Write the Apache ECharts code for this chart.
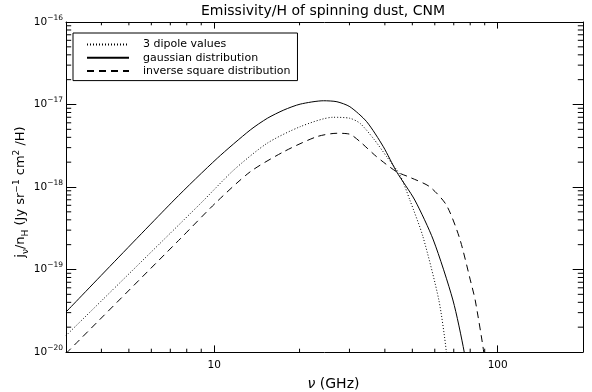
<!DOCTYPE html>
<html>
<head>
<meta charset="utf-8">
<script src="https://cdn.jsdelivr.net/npm/echarts@6/dist/echarts.min.js"></script>
<style>
  html, body { margin: 0; padding: 0; background: #fff; }
  #chart-container { width: 592px; height: 392px; }
</style>
</head>
<body>
<div id="chart-container"></div>
<script>
// frequency (GHz) and emissivity per H (Jy sr^-1 cm^2 /H)
var dipoleNu = [3.0, 8.96, 11.73, 15.37, 20.1, 26.3, 30.1, 32.7, 36.4, 40.6, 45.2, 49.0, 54.5, 62.0, 65.9, 67.0];
var dipoleJ  = [1.58e-20, 6.34e-19, 1.61e-18, 3.39e-18, 5.38e-18, 7.00e-18, 6.81e-18, 5.91e-18, 3.89e-18, 2.33e-18, 1.40e-18, 6.95e-19, 2.50e-19, 4.27e-20, 1.01e-20, 4e-21];

var gaussNu = [3.0, 7.22, 10.25, 13.4, 15.4, 17.6, 20.1, 24.3, 27.1, 30.1, 34.5, 39.5, 44.0, 51.0, 59.3, 69.5, 76.2, 78.0];
var gaussJ  = [3.05e-20, 6.95e-19, 2.23e-18, 4.91e-18, 6.81e-18, 8.57e-18, 1.01e-17, 1.11e-17, 1.08e-17, 9.40e-18, 6.19e-18, 3.08e-18, 1.53e-18, 6.95e-19, 2.28e-19, 4.27e-20, 1.0e-20, 5e-21];

var invsqNu = [3.0, 7.62, 10.2, 13.4, 17.6, 23.0, 27.1, 30.1, 32.7, 37.4, 44.0, 49.0, 57.5, 65.9, 73.4, 80.6, 83.3, 89.3, 91.0];
var invsqJ  = [9.6e-21, 2.39e-19, 6.6e-19, 1.53e-18, 2.68e-18, 4.07e-18, 4.48e-18, 4.36e-18, 3.54e-18, 2.33e-18, 1.53e-18, 1.31e-18, 1.01e-18, 6.05e-19, 2.39e-19, 6.81e-20, 4.27e-20, 1.0e-20, 5e-21];

var seriesNames = ['3 dipole values', 'gaussian distribution', 'inverse square distribution'];

// axis ranges and minor tick values
var xMin = 3, xMax = 200;
var yMin = 1e-20, yMax = 1e-16;
var xMinorTicks = [4, 5, 6, 7, 8, 9, 20, 30, 40, 50, 60, 70, 80, 90];
var yMinorTicks = [];
[-20, -19, -18, -17].forEach(function (e) {
  for (var m = 2; m <= 9; m++) yMinorTicks.push(m * Math.pow(10, e));
});

function pairs(xs, ys) {
  return xs.map(function (x, i) { return [x, ys[i]]; });
}

var FONT = 'DejaVu Sans';

var dom = document.getElementById('chart-container');
var myChart = echarts.init(dom, null, { renderer: 'canvas' });

function isPow10(v) {
  var l = Math.log10(v);
  return Math.abs(l - Math.round(l)) < 1e-6;
}

var lineBase = {
  type: 'line',
  symbol: 'none',
  smooth: 0.25,
  clip: true,
  xAxisIndex: 0,
  yAxisIndex: 0
};

var option = {
  animation: false,
  backgroundColor: '#fff',
  title: {
    text: 'Emissivity/H of spinning dust, CNM',
    left: 323,
    top: 4,
    padding: 0,
    textAlign: 'center',
    textStyle: { fontFamily: FONT, fontSize: 14, fontWeight: 'normal', color: '#000' }
  },
  legend: {
    data: seriesNames,
    orient: 'vertical',
    left: 73,
    top: 33,
    padding: [6, 7, 4, 13],
    itemGap: 2.3,
    itemWidth: 42,
    itemHeight: 11,
    borderColor: '#000',
    borderWidth: 1,
    borderRadius: 0,
    itemStyle: { opacity: 0 },
    textStyle: { fontFamily: FONT, fontSize: 11, color: '#000', lineHeight: 11, padding: [0, 0, 0, 9] }
  },
  grid: { left: 66, right: 9, top: 22, bottom: 40, containLabel: false, outerBoundsMode: 'none' },
  xAxis: [
    {
      type: 'log', logBase: 10, min: xMin, max: xMax, position: 'bottom',
      axisLine: { lineStyle: { color: '#000', width: 1 } },
      axisTick: { inside: true, length: 6.6, lineStyle: { color: '#000' } },
      splitLine: { show: false },
      axisLabel: {
        margin: 8,
        fontFamily: FONT, fontSize: 10.5, color: '#000',
        formatter: function (v) { return isPow10(v) ? String(Math.round(v)) : ''; }
      },
      name: '{g|ν} (GHz)',
      nameLocation: 'middle',
      nameGap: 25,
      nameTextStyle: {
        fontFamily: FONT, fontSize: 14, color: '#000', padding: [0, 0, 0, 18],
        rich: { g: { fontFamily: FONT, fontSize: 14, fontStyle: 'italic', color: '#000' } }
      }
    },
    {
      type: 'log', logBase: 10, min: xMin, max: xMax, position: 'top',
      axisLine: { lineStyle: { color: '#000', width: 1 } },
      axisTick: { inside: true, length: 6.6, lineStyle: { color: '#000' } },
      splitLine: { show: false },
      axisLabel: { show: false }
    }
  ],
  yAxis: [
    {
      type: 'log', logBase: 10, min: yMin, max: yMax, position: 'left',
      axisLine: { lineStyle: { color: '#000', width: 1 } },
      axisTick: { inside: true, length: 10.3, lineStyle: { color: '#000' } },
      splitLine: { show: false },
      axisLabel: {
        margin: 3,
        color: '#000',
        formatter: function (v) {
          var e = Math.round(Math.log10(v));
          return '{b|10}{s|' + String(e).replace('-', '\u2212') + '}';
        },
        rich: {
          b: { fontFamily: FONT, fontSize: 10.5, lineHeight: 16, color: '#000' },
          s: { fontFamily: FONT, fontSize: 7.5, lineHeight: 8, verticalAlign: 'top', color: '#000' }
        }
      },
      name: 'j{sb|ν}/n{sb|H} (Jy sr{sp|\u22121} cm{sp|2} /H)',
      nameLocation: 'middle',
      nameGap: 36,
      nameMoveOverlap: false,
      nameRotate: 90,
      nameTextStyle: {
        fontFamily: FONT, fontSize: 13, color: '#000', lineHeight: 18, padding: [0, 10, 0, 0],
        rich: {
          sb: { fontFamily: FONT, fontSize: 9, lineHeight: 10, verticalAlign: 'bottom', color: '#000' },
          sp: { fontFamily: FONT, fontSize: 9, lineHeight: 10, verticalAlign: 'top', color: '#000' }
        }
      }
    },
    {
      type: 'log', logBase: 10, min: yMin, max: yMax, position: 'right',
      axisLine: { lineStyle: { color: '#000', width: 1 } },
      axisTick: { inside: true, length: 10.3, lineStyle: { color: '#000' } },
      splitLine: { show: false },
      axisLabel: { show: false }
    }
  ],
  series: [
    Object.assign({}, lineBase, {
      name: seriesNames[0],
      data: pairs(dipoleNu, dipoleJ),
      lineStyle: { color: '#000', width: 1, type: [1, 2] }
    }),
    Object.assign({}, lineBase, {
      name: seriesNames[1],
      data: pairs(gaussNu, gaussJ),
      lineStyle: { color: '#000', width: 1, type: 'solid' }
    }),
    Object.assign({}, lineBase, {
      name: seriesNames[2],
      data: pairs(invsqNu, invsqJ),
      lineStyle: { color: '#000', width: 1, type: [7, 5] }
    }),
    {
      // minor ticks on bottom and top axes
      type: 'custom',
      silent: true,
      data: xMinorTicks.map(function (v) { return [v, yMin]; }),
      renderItem: function (params, api) {
        var b = api.coord([api.value(0), yMin]);
        var t = api.coord([api.value(0), yMax]);
        var st = { stroke: '#000', lineWidth: 1 };
        return {
          type: 'group',
          children: [
            { type: 'line', shape: { x1: b[0], y1: b[1], x2: b[0], y2: b[1] - 3.3 }, style: st },
            { type: 'line', shape: { x1: t[0], y1: t[1], x2: t[0], y2: t[1] + 3.3 }, style: st }
          ]
        };
      }
    },
    {
      // minor ticks on left and right axes
      type: 'custom',
      silent: true,
      data: yMinorTicks.map(function (v) { return [xMin, v]; }),
      renderItem: function (params, api) {
        var l = api.coord([xMin, api.value(1)]);
        var r = api.coord([xMax, api.value(1)]);
        var st = { stroke: '#000', lineWidth: 1 };
        return {
          type: 'group',
          children: [
            { type: 'line', shape: { x1: l[0], y1: l[1], x2: l[0] + 5.2, y2: l[1] }, style: st },
            { type: 'line', shape: { x1: r[0], y1: r[1], x2: r[0] - 5.2, y2: r[1] }, style: st }
          ]
        };
      }
    }
  ]
};

myChart.setOption(option);
window.addEventListener('resize', myChart.resize);
</script>
</body>
</html>
